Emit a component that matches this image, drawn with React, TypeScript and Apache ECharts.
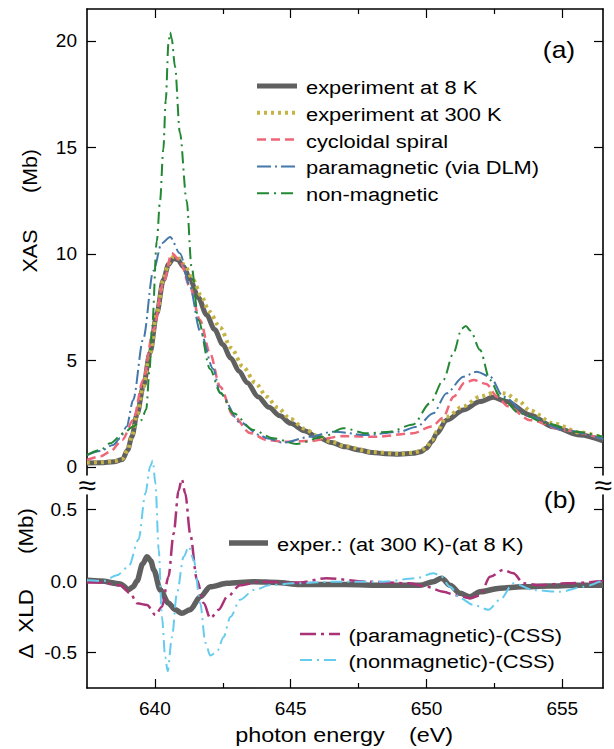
import React, { useEffect, useRef } from "react";
import * as echarts from "echarts";

// ---------- data (photon energy in eV, values in Mb) ----------
const X_RANGE = [637.5, 656.5];
const X_MAJOR_TICKS = [640, 645, 650, 655];
const X_MINOR_TICKS = [642.5, 647.5, 652.5];
const XAS_TICKS = [0, 5, 10, 15, 20];
const XLD_TICKS = [-0.5, 0, 0.5];

const exp8K: number[][] = [
  [637.5, 0.19], [638.0, 0.2], [638.5, 0.25], [638.8, 0.35], [639.0, 0.8], [639.15, 1.42],
  [639.35, 2.5], [639.57, 3.77], [639.82, 5.35], [640.07, 7.2], [640.31, 8.78], [640.5, 9.5],
  [640.68, 9.8], [640.85, 9.72], [641.05, 9.4], [641.3, 8.8], [641.6, 7.95], [641.9, 7.15],
  [642.2, 6.45], [642.5, 5.75], [642.8, 5.1], [643.1, 4.5], [643.4, 3.95], [643.8, 3.3],
  [644.2, 2.8], [644.6, 2.4], [645.0, 2.05], [645.5, 1.7], [646.0, 1.4], [646.5, 1.15],
  [647.0, 0.95], [647.5, 0.8], [648.0, 0.68], [648.5, 0.62], [649.0, 0.6], [649.5, 0.64],
  [649.8, 0.72], [650.0, 0.88], [650.2, 1.2], [650.38, 1.58], [650.74, 2.2], [651.36, 2.68],
  [651.97, 3.07], [652.46, 3.27], [652.95, 3.07], [653.81, 2.44], [654.67, 1.89], [655.65, 1.5],
  [656.5, 1.23],
];

const exp300K: number[][] = [
  [637.5, 0.2], [638.0, 0.22], [638.5, 0.27], [638.8, 0.37], [639.0, 0.8], [639.15, 1.42],
  [639.35, 2.5], [639.57, 3.77], [639.82, 5.35], [640.07, 7.2], [640.31, 8.78], [640.5, 9.55],
  [640.7, 9.9], [640.9, 9.78], [641.1, 9.45], [641.4, 8.8], [641.7, 8.05], [642.0, 7.3],
  [642.4, 6.55], [642.8, 5.6], [643.25, 4.7], [643.7, 3.95], [644.12, 3.3], [644.5, 2.8],
  [645.0, 2.25], [645.5, 1.8], [646.0, 1.45], [646.5, 1.18], [647.0, 0.97], [648.0, 0.7],
  [649.0, 0.62], [649.5, 0.66], [649.8, 0.76], [650.0, 0.92], [650.2, 1.25], [650.38, 1.65],
  [650.74, 2.35], [651.36, 2.85], [651.97, 3.3], [652.5, 3.5], [652.9, 3.45], [653.4, 3.1],
  [653.81, 2.65], [654.67, 2.05], [655.65, 1.62], [656.5, 1.38],
];

const cycloidal: number[][] = [
  [637.5, 0.33], [638.0, 0.5], [638.35, 0.72], [638.8, 1.27], [639.2, 2.2], [639.57, 4.08],
  [639.94, 6.43], [640.31, 8.62], [640.62, 10.03], [640.92, 9.7], [641.29, 8.46], [641.66, 6.9],
  [642.03, 5.34], [642.4, 3.77], [642.89, 2.4], [643.5, 1.6], [644.12, 1.27], [644.73, 1.19],
  [645.71, 1.22], [646.94, 1.45], [648.16, 1.42], [649.5, 1.58], [650.2, 1.9], [650.6, 2.3],
  [651.0, 3.3], [651.4, 3.95], [651.75, 4.08], [652.2, 3.9], [652.6, 3.3], [653.0, 2.85],
  [653.81, 2.2], [655.04, 1.74], [656.5, 1.3],
];

const paramagnetic: number[][] = [
  [637.5, 0.56], [638.0, 0.75], [638.46, 1.03], [638.72, 1.35], [638.96, 1.9], [639.2, 3.15],
  [639.57, 6.0], [639.94, 9.2], [640.25, 10.5], [640.56, 10.8], [640.92, 10.03], [641.29, 8.46],
  [641.66, 6.4], [642.15, 4.6], [642.4, 3.46], [643.13, 2.1], [643.87, 1.5], [644.12, 1.35],
  [644.73, 1.14], [645.71, 1.42], [646.57, 1.66], [647.8, 1.5], [649.02, 1.66], [649.64, 1.89],
  [650.25, 2.52], [650.74, 3.46], [651.36, 4.24], [651.85, 4.47], [652.34, 4.24], [652.83, 3.3],
  [653.81, 2.36], [655.04, 1.74], [656.5, 1.3],
];

const nonMagnetic: number[][] = [
  [637.5, 0.56], [638.0, 0.8], [638.35, 1.11], [638.84, 1.58], [639.2, 1.9], [639.5, 2.2],
  [639.68, 2.7], [639.8, 4.5], [639.9, 6.6], [640.07, 10.6], [640.19, 12.5], [640.31, 14.9],
  [640.4, 17.2], [640.5, 19.9], [640.56, 20.4], [640.62, 20.1], [640.74, 18.8], [640.92, 15.7],
  [641.17, 12.5], [641.35, 9.4], [641.6, 6.9], [642.03, 4.6], [642.4, 3.5], [642.89, 2.52],
  [643.62, 1.74], [644.36, 1.35], [645.22, 1.08], [646.2, 1.42], [646.94, 1.82], [647.8, 1.58],
  [648.66, 1.66], [649.51, 2.0], [650.13, 2.99], [650.62, 4.08], [650.99, 5.34], [651.3, 6.5],
  [651.45, 6.62], [651.62, 6.4], [651.97, 5.5], [652.34, 4.08], [652.71, 3.3], [653.44, 2.52],
  [654.43, 2.05], [655.5, 1.65], [656.5, 1.42],
];

const xldExper: number[][] = [
  [637.5, 0.005], [638.0, 0.0], [638.73, -0.02], [639.03, -0.06], [639.2, -0.04], [639.34, 0.0],
  [639.55, 0.12], [639.71, 0.17], [639.85, 0.14], [639.96, 0.077], [640.2, -0.063], [640.5, -0.155],
  [640.75, -0.2], [640.99, -0.225], [641.3, -0.2], [641.67, -0.11], [642.04, -0.04], [642.65, -0.016],
  [643.64, -0.005], [644.5, -0.01], [645.34, -0.025], [647.0, -0.025], [648.5, -0.03], [649.76, -0.03],
  [650.25, -0.005], [650.56, 0.02], [650.87, -0.03], [651.24, -0.086], [651.6, -0.11], [651.97, -0.075],
  [652.71, -0.05], [653.5, -0.04], [654.5, -0.035], [655.5, -0.03], [656.5, -0.03],
];

const xldParamag: number[][] = [
  [637.5, -0.01], [638.0, -0.01], [638.73, -0.03], [639.1, -0.086], [639.34, -0.155], [639.71, -0.167],
  [640.02, -0.237], [640.26, -0.18], [640.5, 0.03], [640.69, 0.33], [640.87, 0.63], [640.99, 0.71],
  [641.12, 0.61], [641.3, 0.33], [641.55, 0.007], [641.8, -0.155], [642.04, -0.26], [642.35, -0.2],
  [642.66, -0.11], [643.14, -0.03], [643.88, -0.005], [644.86, -0.01], [645.34, -0.01], [646.32, 0.02],
  [647.8, -0.005], [649.39, -0.016], [650.0, -0.04], [650.62, -0.075], [651.11, -0.1], [651.6, -0.12],
  [651.97, -0.1], [652.34, 0.03], [652.83, 0.077], [653.2, 0.054], [653.57, -0.016], [654.18, -0.028],
  [655.17, -0.016], [656.5, 0.0],
];

const xldNonmag: number[][] = [
  [637.5, 0.005], [638.11, 0.0], [638.6, 0.04], [639.03, 0.1], [639.4, 0.29], [639.65, 0.61],
  [639.83, 0.8], [639.92, 0.84], [640.02, 0.68], [640.14, 0.22], [640.26, -0.25], [640.38, -0.53],
  [640.47, -0.63], [640.63, -0.39], [640.81, -0.086], [641.06, 0.17], [641.25, 0.24], [641.43, 0.146],
  [641.67, -0.155], [641.86, -0.43], [642.04, -0.52], [642.29, -0.49], [642.53, -0.39], [642.78, -0.25],
  [643.14, -0.13], [643.64, -0.063], [644.25, -0.028], [645.11, -0.016], [646.57, -0.005], [648.41, -0.005],
  [649.64, 0.02], [650.25, 0.054], [650.5, 0.04], [650.87, -0.04], [651.24, -0.12], [651.73, -0.167],
  [652.28, -0.2], [652.71, -0.13], [653.2, -0.016], [653.94, -0.063], [654.92, -0.075], [655.78, -0.04],
  [656.5, 0.007],
];

const TOP_LEGEND = [
  "experiment at 8 K",
  "experiment at 300 K",
  "cycloidal spiral",
  "paramagnetic (via DLM)",
  "non-magnetic",
];
const BOTTOM_LEGEND = [
  "exper.: (at 300 K)-(at 8 K)",
  "(paramagnetic)-(CSS)",
  "(nonmagnetic)-(CSS)",
];

// ---------- styles ----------
const FONT = '"Liberation Sans", Arial, Helvetica, sans-serif';
const C_GRAY = "#606060";
const C_OLIVE = "#c4b445";
const C_PINK = "#ee6677";
const C_BLUE = "#4477aa";
const C_GREEN = "#228833";
const C_PURPLE = "#aa3377";
const C_CYAN = "#66ccee";

type LS = { color: string; width: number; dash: number[] | "solid" };
const TOP_STYLES: LS[] = [
  { color: C_GRAY, width: 5, dash: "solid" },
  { color: C_OLIVE, width: 4, dash: [3, 4] },
  { color: C_PINK, width: 2.5, dash: [9, 5] },
  { color: C_BLUE, width: 2, dash: [14, 4, 2, 4] },
  { color: C_GREEN, width: 2, dash: [12, 5, 2, 5] },
];
const BOTTOM_STYLES: LS[] = [
  { color: C_GRAY, width: 5.5, dash: "solid" },
  { color: C_PURPLE, width: 2.5, dash: [16, 5, 3, 5] },
  { color: C_CYAN, width: 2, dash: [12, 5, 2, 5] },
];

function lineSeries(name: string, data: number[][], xi: number, yi: number, s: LS, z: number) {
  return {
    type: "line",
    name,
    data,
    xAxisIndex: xi,
    yAxisIndex: yi,
    showSymbol: false,
    symbol: "none",
    smooth: 0.3,
    smoothMonotone: "x",
    clip: false,
    silent: true,
    z,
    lineStyle: { color: s.color, width: s.width, type: s.dash, cap: "butt" },
  };
}

function txt(text: string, x: number, y: number, size: number, opts: any = {}) {
  const align = opts.align || "left";
  return {
    type: "text",
    x,
    y,
    rotation: opts.rotation || 0,
    scaleX: opts.scaleX || 1,
    z: 100,
    style: {
      text,
      fill: "#000",
      fontSize: size,
      fontFamily: FONT,
      textAlign: align,
      align,
      textVerticalAlign: "middle",
      verticalAlign: "middle",
    },
  };
}

function legLine(x1: number, x2: number, y: number, s: LS) {
  return {
    type: "line",
    z: 100,
    shape: { x1, y1: y, x2, y2: y },
    style: {
      stroke: s.color,
      lineWidth: s.width,
      lineDash: s.dash === "solid" ? null : s.dash,
      lineCap: "butt",
    },
  };
}

export default function App() {
  const ref = useRef<HTMLDivElement>(null);

  useEffect(() => {
    document.body.style.margin = "0";
    if (!ref.current) return;
    const chart = echarts.init(ref.current, null, { renderer: "svg" });

    const axisLine = { show: true, onZero: false, lineStyle: { color: "#000", width: 1.6 } };
    const noLine = { show: false, onZero: false };
    const majorTick = (vals: number[]) => ({
      show: true,
      inside: true,
      length: 9,
      customValues: vals,
      lineStyle: { color: "#000", width: 1.2 },
    });
    const minorTick = {
      show: true,
      inside: true,
      length: 5,
      customValues: X_MINOR_TICKS,
      lineStyle: { color: "#000", width: 1.2 },
    };
    const labelStyle = { color: "#000", fontSize: 19, fontFamily: FONT };

    const xBase = { type: "value", min: X_RANGE[0], max: X_RANGE[1], splitLine: { show: false } };

    const graphic: any[] = [];
    // top legend
    TOP_LEGEND.forEach((t, i) => {
      const y = 86 + i * 26.8;
      graphic.push(legLine(257, 297, y, TOP_STYLES[i]));
      graphic.push(txt(t, 306, y + 1, 19, { scaleX: 1.15 }));
    });
    // bottom legend
    const bRows = [
      { x1: 229, x2: 268, tx: 277, y: 543 },
      { x1: 300, x2: 340, tx: 348.5, y: 634 },
      { x1: 300, x2: 340, tx: 348.5, y: 660 },
    ];
    BOTTOM_LEGEND.forEach((t, i) => {
      const r = bRows[i];
      graphic.push(legLine(r.x1, r.x2, r.y, BOTTOM_STYLES[i]));
      graphic.push(txt(t, r.tx, r.y + 1, 19, { scaleX: 1.15 }));
    });
    // panel labels
    graphic.push(txt("(a)", 559, 50, 23, { align: "center", scaleX: 1.15 }));
    graphic.push(txt("(b)", 560, 500, 23, { align: "center", scaleX: 1.15 }));
    // axis names
    graphic.push(txt("XAS", 30, 251, 20, { align: "center", rotation: Math.PI / 2, scaleX: 1.07 }));
    graphic.push(txt("(Mb)", 30, 171, 20, { align: "center", rotation: Math.PI / 2, scaleX: 1.07 }));
    graphic.push(txt("Δ  XLD", 26, 624, 20, { align: "center", rotation: Math.PI / 2, scaleX: 1.12 }));
    graphic.push(txt("(Mb)", 26, 531, 20, { align: "center", rotation: Math.PI / 2, scaleX: 1.12 }));
    graphic.push(txt("photon energy", 310, 735, 20, { align: "center", scaleX: 1.17 }));
    graphic.push(txt("(eV)", 431, 735, 20, { align: "center", scaleX: 1.17 }));
    // axis break marks
    graphic.push(txt("≈", 87, 485, 28, { align: "center", scaleX: 1.15 }));
    graphic.push(txt("≈", 603, 485, 28, { align: "center", scaleX: 1.15 }));

    const option: any = {
      animation: false,
      backgroundColor: "#fff",
      grid: [
        { left: 87, top: 9, width: 516, height: 466 },
        { left: 87, top: 495, width: 516, height: 193 },
      ],
      xAxis: [
        { ...xBase, gridIndex: 0, position: "top", axisLine, axisTick: majorTick(X_MAJOR_TICKS), axisLabel: { show: false } },
        { ...xBase, gridIndex: 0, position: "top", axisLine: noLine, axisTick: minorTick, axisLabel: { show: false } },
        {
          ...xBase, gridIndex: 1, position: "bottom", axisLine, axisTick: majorTick(X_MAJOR_TICKS),
          axisLabel: { ...labelStyle, margin: 11, customValues: X_MAJOR_TICKS },
        },
        { ...xBase, gridIndex: 1, position: "bottom", axisLine: noLine, axisTick: minorTick, axisLabel: { show: false } },
      ],
      yAxis: [
        {
          type: "value", gridIndex: 0, position: "left", min: -0.376, max: 21.5, splitLine: { show: false },
          axisLine, axisTick: majorTick(XAS_TICKS),
          axisLabel: { ...labelStyle, margin: 10, customValues: XAS_TICKS },
        },
        {
          type: "value", gridIndex: 0, position: "right", min: -0.376, max: 21.5, splitLine: { show: false },
          axisLine, axisTick: majorTick(XAS_TICKS), axisLabel: { show: false },
        },
        {
          type: "value", gridIndex: 1, position: "left", min: -0.746, max: 0.6, splitLine: { show: false },
          axisLine, axisTick: majorTick(XLD_TICKS),
          axisLabel: { ...labelStyle, margin: 10, customValues: XLD_TICKS, formatter: (v: number) => v.toFixed(1) },
        },
        {
          type: "value", gridIndex: 1, position: "right", min: -0.746, max: 0.6, splitLine: { show: false },
          axisLine, axisTick: majorTick(XLD_TICKS), axisLabel: { show: false },
        },
      ],
      series: [
        lineSeries(TOP_LEGEND[0], exp8K, 0, 0, TOP_STYLES[0], 2),
        lineSeries(TOP_LEGEND[1], exp300K, 0, 0, TOP_STYLES[1], 3),
        lineSeries(TOP_LEGEND[2], cycloidal, 0, 0, TOP_STYLES[2], 4),
        lineSeries(TOP_LEGEND[3], paramagnetic, 0, 0, TOP_STYLES[3], 5),
        lineSeries(TOP_LEGEND[4], nonMagnetic, 0, 0, TOP_STYLES[4], 6),
        lineSeries(BOTTOM_LEGEND[0], xldExper, 2, 2, BOTTOM_STYLES[0], 2),
        lineSeries(BOTTOM_LEGEND[1], xldParamag, 2, 2, BOTTOM_STYLES[1], 3),
        lineSeries(BOTTOM_LEGEND[2], xldNonmag, 2, 2, BOTTOM_STYLES[2], 4),
      ],
      graphic,
    };

    chart.setOption(option);
    return () => chart.dispose();
  }, []);

  return <div ref={ref} style={{ width: 614, height: 749 }} />;
}
